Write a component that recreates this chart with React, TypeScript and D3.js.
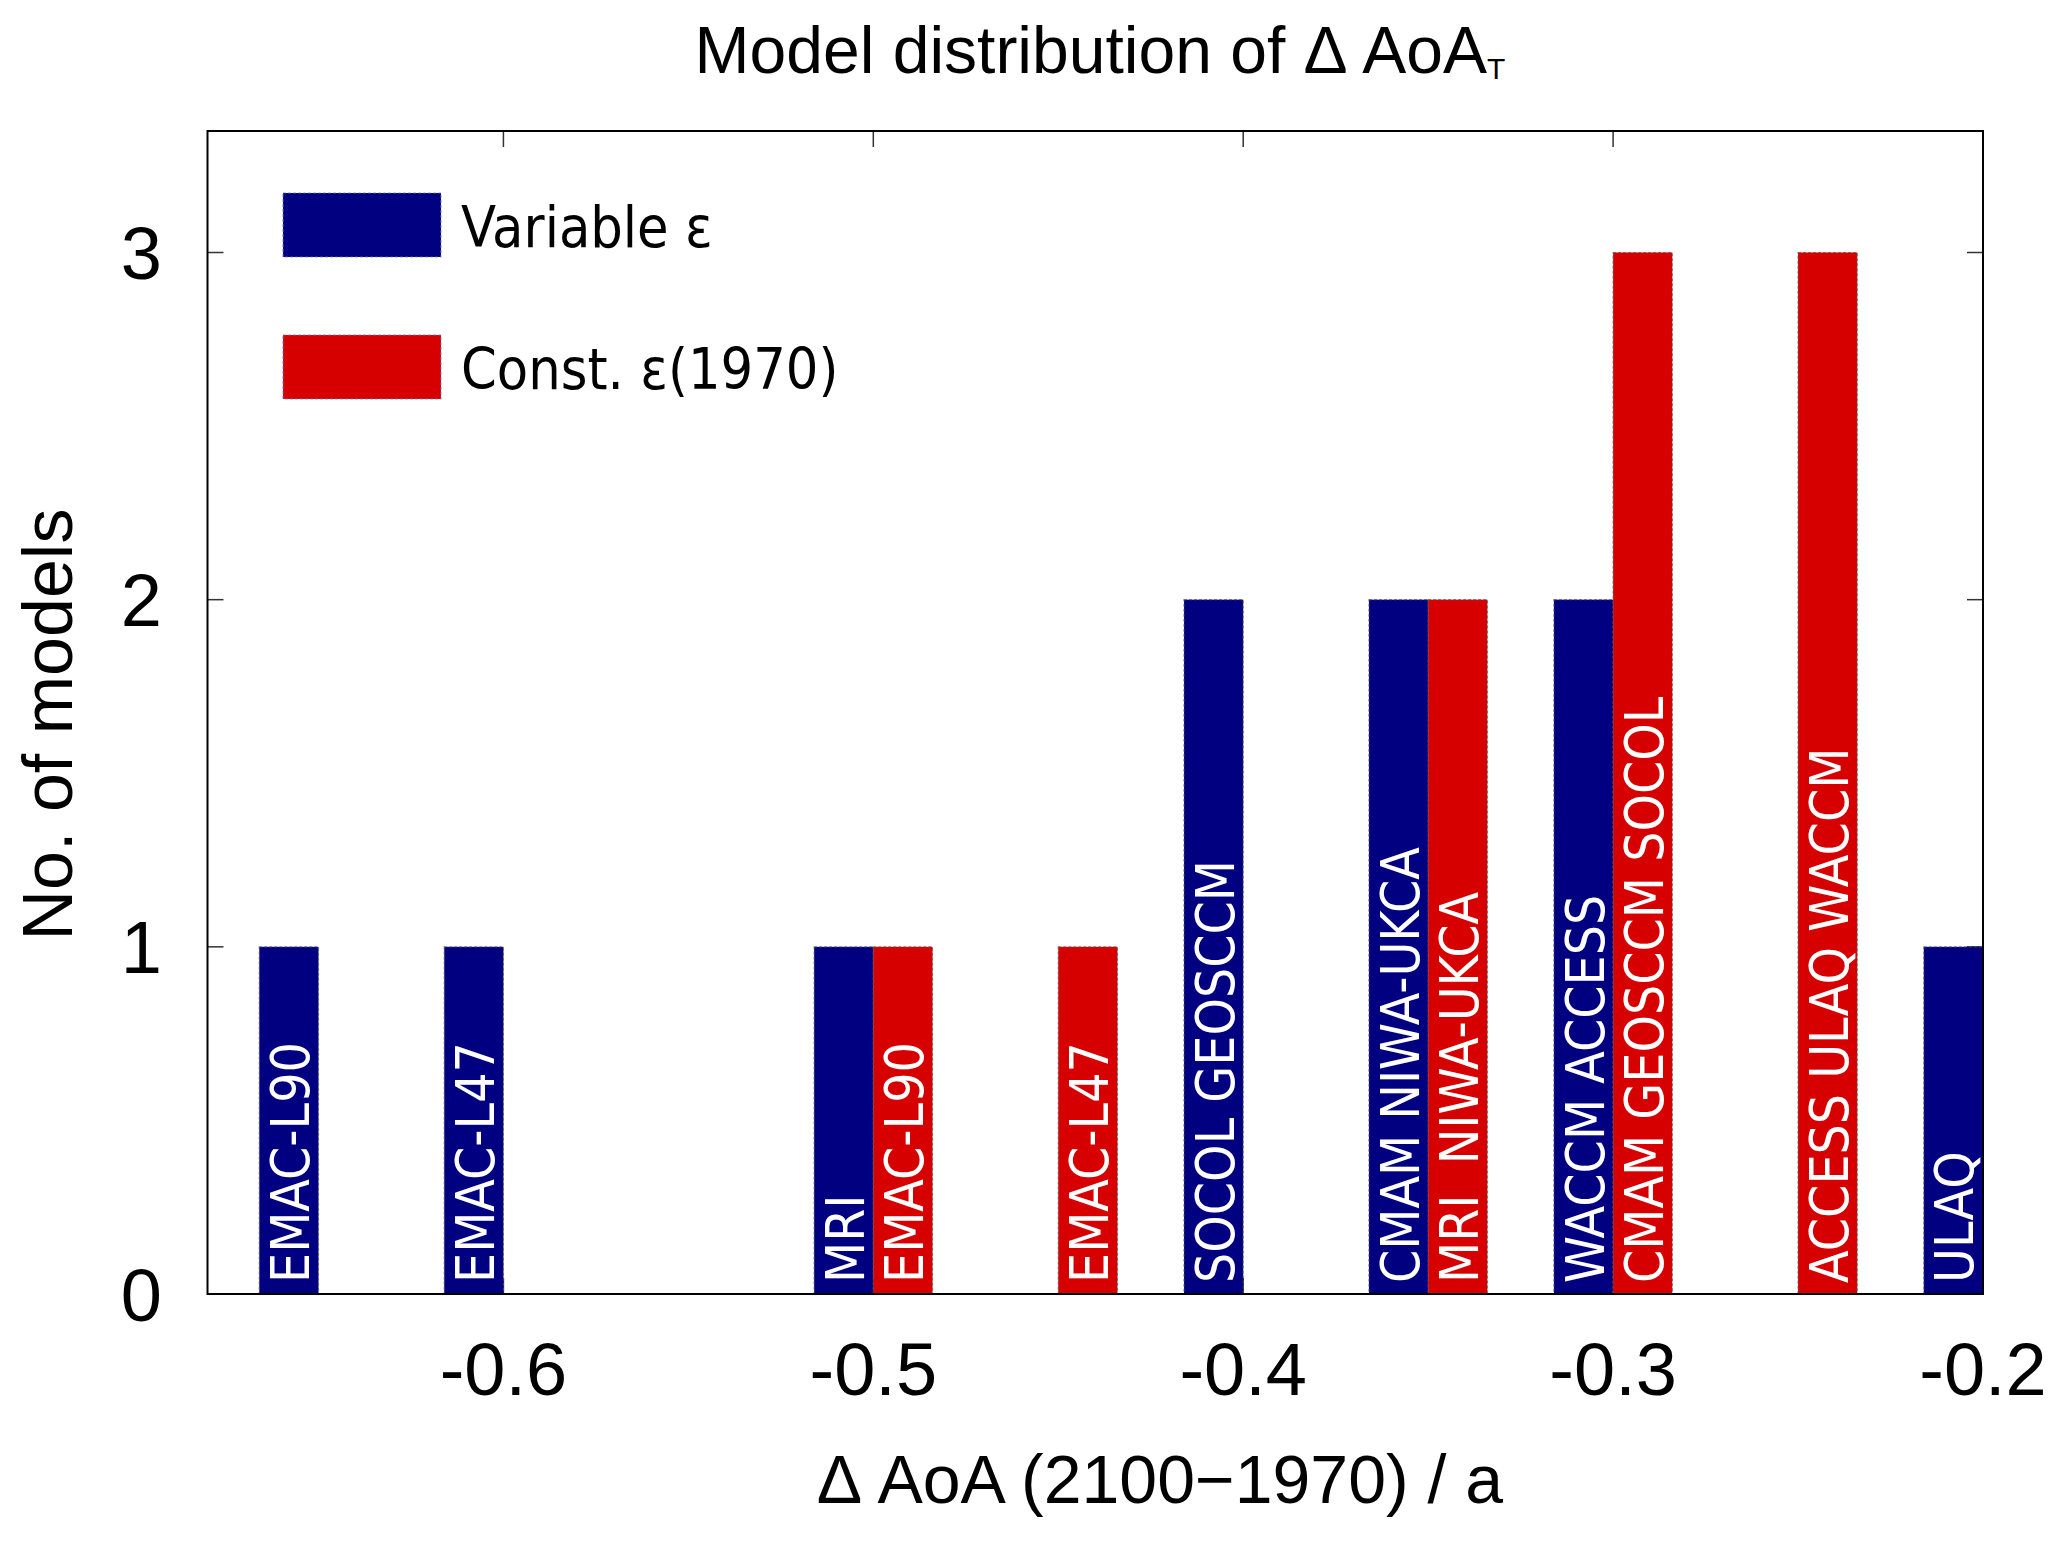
import React from 'react';
import * as d3 from 'd3';

// histogram bins of Delta AoA (2100-1970), in years
const binCenters = [-0.65, -0.6, -0.55, -0.5, -0.45, -0.4, -0.35, -0.3, -0.25, -0.2];
const variableCounts = [1, 1, 0, 1, 0, 2, 2, 2, 0, 1];
const constCounts = [0, 0, 0, 1, 1, 0, 2, 3, 3, 0];
const variableLabels = ['EMAC-L90', 'EMAC-L47', '', 'MRI', '', 'SOCOL GEOSCCM', 'CMAM NIWA-UKCA', 'WACCM ACCESS', '', 'ULAQ'];
const constLabels = ['', '', '', 'EMAC-L90', 'EMAC-L47', '', 'MRI  NIWA-UKCA', 'CMAM GEOSCCM SOCOL', 'ACCESS ULAQ WACCM', ''];
const xTicks = [-0.6, -0.5, -0.4, -0.3, -0.2];
const yTicks = [0, 1, 2, 3];
const seriesNames = ['Variable ε', 'Const. ε(1970)'];
const seriesColors = ['#000080', '#d60000'];

const W = 2067;
const H = 1541;
const left = 207.5, right = 1983, top = 131, bottom = 1294;
const barW = 0.016;

const helv = 'Liberation Sans, Arial, Helvetica, sans-serif';
const dejavu = 'DejaVu Sans, sans-serif';

export default function App(): JSX.Element {
	const x = d3.scaleLinear().domain([-0.68, -0.2]).range([left, right]);
	const y = d3.scaleLinear().domain([0, 3.35]).range([bottom, top]);

	const series = [
		{ counts: variableCounts, labels: variableLabels, color: seriesColors[0], x0: (c: number) => c - barW },
		{ counts: constCounts, labels: constLabels, color: seriesColors[1], x0: (c: number) => c },
	];

	return (
		<svg width={W} height={H} viewBox={`0 0 ${W} ${H}`} style={{ position: 'absolute', left: 0, top: 0, background: '#fff' }}>
			{/* title */}
			<text x={1100} y={73} textAnchor="middle" fontFamily={helv} fontSize={66} fill="#000">
				Model distribution of Δ AoA
				<tspan fontSize={30} dy={6}>T</tspan>
			</text>

			{/* ticks (inward, all four sides) */}
			<g stroke="#333" strokeWidth={1.5}>
				{xTicks.map((t) => (
					<g key={`xt${t}`}>
						<line x1={x(t)} x2={x(t)} y1={top} y2={top + 16} />
						<line x1={x(t)} x2={x(t)} y1={bottom} y2={bottom - 16} />
					</g>
				))}
				{yTicks.map((t) => (
					<g key={`yt${t}`}>
						<line x1={left} x2={left + 16} y1={y(t)} y2={y(t)} />
						<line x1={right} x2={right - 16} y1={y(t)} y2={y(t)} />
					</g>
				))}
			</g>

			{/* bars */}
			{series.map((s, si) =>
				binCenters.map((c, i) =>
					s.counts[i] > 0 ? (
						<rect
							key={`b${si}-${i}`}
							x={x(s.x0(c))}
							y={y(s.counts[i])}
							width={x(s.x0(c) + barW) - x(s.x0(c))}
							height={y(0) - y(s.counts[i])}
							fill={s.color}
							stroke="#555"
							strokeWidth={1.2}
							strokeDasharray="3,2"
							strokeOpacity={0.7}
						/>
					) : null
				)
			)}

			{/* model names inside bars */}
			{series.map((s, si) =>
				binCenters.map((c, i) => {
					if (!s.labels[i]) return null;
					const cx = x(s.x0(c) + barW / 2);
					return (
						<g key={`l${si}-${i}`} transform={`translate(${cx + 20},${bottom - 11}) rotate(-90) scale(0.9,1)`}>
							<text x={0} y={0} fontFamily={dejavu} fontSize={53} fill="#fff" style={{ whiteSpace: 'pre' }}>
								{s.labels[i]}
							</text>
						</g>
					);
				})
			)}

			{/* frame */}
			<rect x={left} y={top} width={right - left} height={bottom - top} fill="none" stroke="#000" strokeWidth={2} />

			{/* tick labels */}
			{xTicks.map((t) => (
				<text key={`xl${t}`} x={x(t)} y={1395} textAnchor="middle" fontFamily={helv} fontSize={74} fill="#000">
					{t.toFixed(1)}
				</text>
			))}
			{yTicks.map((t) => (
				<text key={`yl${t}`} x={162} y={y(t)} dy="0.36em" textAnchor="end" fontFamily={helv} fontSize={74} fill="#000">
					{t}
				</text>
			))}

			{/* axis titles */}
			<text x={1160} y={1503} textAnchor="middle" fontFamily={helv} fontSize={68} fill="#000">
				Δ AoA (2100−1970) / a
			</text>
			<text transform={`translate(72,${(top + bottom) / 2 + 12}) rotate(-90)`} textAnchor="middle" fontFamily={helv} fontSize={70} fill="#000">
				No. of models
			</text>

			{/* legend */}
			{seriesNames.map((n, i) => (
				<g key={`lg${i}`} transform={`translate(0,${i * 142})`}>
					<rect x={283} y={193} width={158} height={64} fill={seriesColors[i]} stroke="#6a7fbf" strokeWidth={1.2} strokeDasharray="3,2" strokeOpacity={0.7} />
					<g transform="translate(461,247) scale(0.9,1)">
						<text x={0} y={0} fontFamily={dejavu} fontSize={57} fill="#000">
							{n}
						</text>
					</g>
				</g>
			))}
		</svg>
	);
}
